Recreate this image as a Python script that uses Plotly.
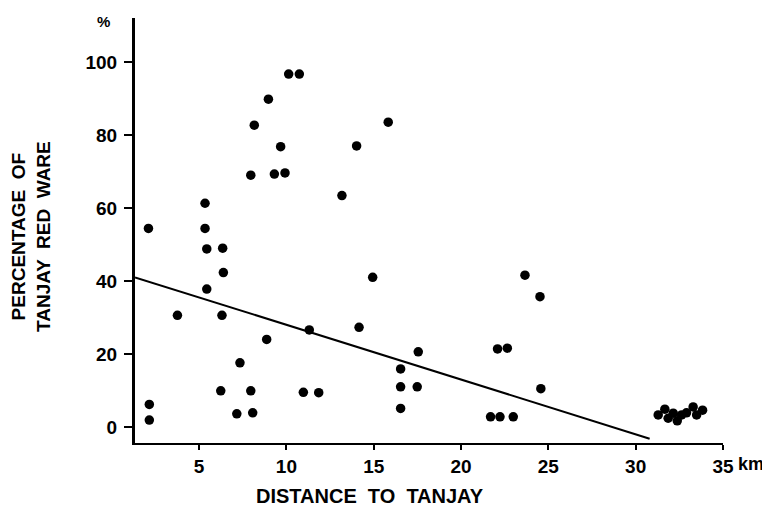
import plotly.graph_objects as go

# --- data ---
distance_km = [2.10, 2.15, 2.15, 3.76, 5.34, 5.34, 5.44, 5.44, 6.35, 6.39,
               6.31, 6.24, 7.34, 7.16, 7.96, 8.16, 7.96, 8.07, 8.97, 8.87,
               9.31, 9.67, 9.92, 10.13, 10.74, 10.97, 11.31, 11.85, 13.18, 14.02,
               14.16, 14.94, 15.83, 16.54, 16.54, 16.54, 17.55, 17.49, 21.69, 22.09,
               22.23, 22.65, 22.99, 23.66, 24.52, 24.57,
               31.29, 31.67, 31.86, 32.15, 32.38, 32.63, 32.91, 33.29, 33.49, 33.83]
pct_red_ware = [54.4, 6.2, 1.9, 30.6, 61.3, 54.4, 48.8, 37.8, 49.0, 42.3,
                30.6, 9.9, 17.6, 3.6, 69.0, 82.7, 9.9, 3.9, 89.8, 24.0,
                69.3, 76.8, 69.6, 96.7, 96.7, 9.5, 26.6, 9.4, 63.4, 77.0,
                27.3, 41.0, 83.5, 15.9, 11.0, 5.1, 20.6, 11.0, 2.8, 21.4,
                2.8, 21.6, 2.8, 41.6, 35.7, 10.5,
                3.3, 4.9, 2.4, 3.8, 1.7, 3.3, 3.9, 5.5, 3.3, 4.6]

fit_intercept = 43.0
fit_slope = -1.5
fit_x = [1.33, 30.8]
fit_y = [fit_intercept + fit_slope * v for v in fit_x]

x_ticks = [5, 10, 15, 20, 25, 30, 35]
y_ticks = [0, 20, 40, 60, 80, 100]

FONT = "Liberation Sans, Arial, sans-serif"

fig = go.Figure()
fig.add_trace(go.Scatter(x=fit_x, y=fit_y, mode="lines",
                         line=dict(color="black", width=2), hoverinfo="skip"))
fig.add_trace(go.Scatter(x=distance_km, y=pct_red_ware, mode="markers",
                         marker=dict(color="black", size=9.5)))

# page body has an 8px margin, so the figure is sized/offset to compensate
fig.update_layout(
    width=762, height=503,
    margin=dict(l=127, r=47, t=10, b=68),
    paper_bgcolor="white", plot_bgcolor="white",
    showlegend=False,
    font=dict(family=FONT, color="black"),
    xaxis=dict(range=[1.33, 35], tickvals=x_ticks, ticktext=[str(v) for v in x_ticks],
               showgrid=False, zeroline=False, showline=True, linecolor="black",
               linewidth=2, ticks="outside", ticklen=5, tickwidth=2, tickcolor="black",
               automargin=False,
               tickfont=dict(size=19, family=FONT, weight="bold")),
    yaxis=dict(range=[-4.38, 112.05], tickvals=y_ticks, ticktext=[str(v) for v in y_ticks],
               showgrid=False, zeroline=False, showline=True, linecolor="black",
               linewidth=3, ticks="outside", ticklen=8, tickwidth=2, tickcolor="black",
               automargin=False, ticklabelstandoff=3,
               tickfont=dict(size=19, family=FONT, weight="bold")),
)

fig.add_annotation(text="km", xref="x", yref="paper", x=35, y=0, xanchor="left",
                   yanchor="top", xshift=13, yshift=-9, showarrow=False,
                   font=dict(size=18, family=FONT, weight="bold"))
fig.add_annotation(text="%", xref="paper", yref="paper", x=(103 - 135) / 588, y=(443 - 22) / 425,
                   xanchor="center", yanchor="middle", showarrow=False,
                   font=dict(size=15, family=FONT, weight="bold"))
fig.add_annotation(text="DISTANCE  TO  TANJAY", xref="paper", yref="paper",
                   x=(370 - 135) / 588, y=-(496 - 443) / 425, xanchor="center", yanchor="middle",
                   showarrow=False, font=dict(size=20, family=FONT, weight="bold"))
fig.add_annotation(text="PERCENTAGE  OF<br>TANJAY  RED  WARE", xref="paper", yref="paper",
                   x=(31 - 135) / 588, y=(443 - 237) / 425, xanchor="center", yanchor="middle",
                   textangle=-90, showarrow=False,
                   font=dict(size=19, family=FONT, weight="bold"))

fig.write_html("out.html")
